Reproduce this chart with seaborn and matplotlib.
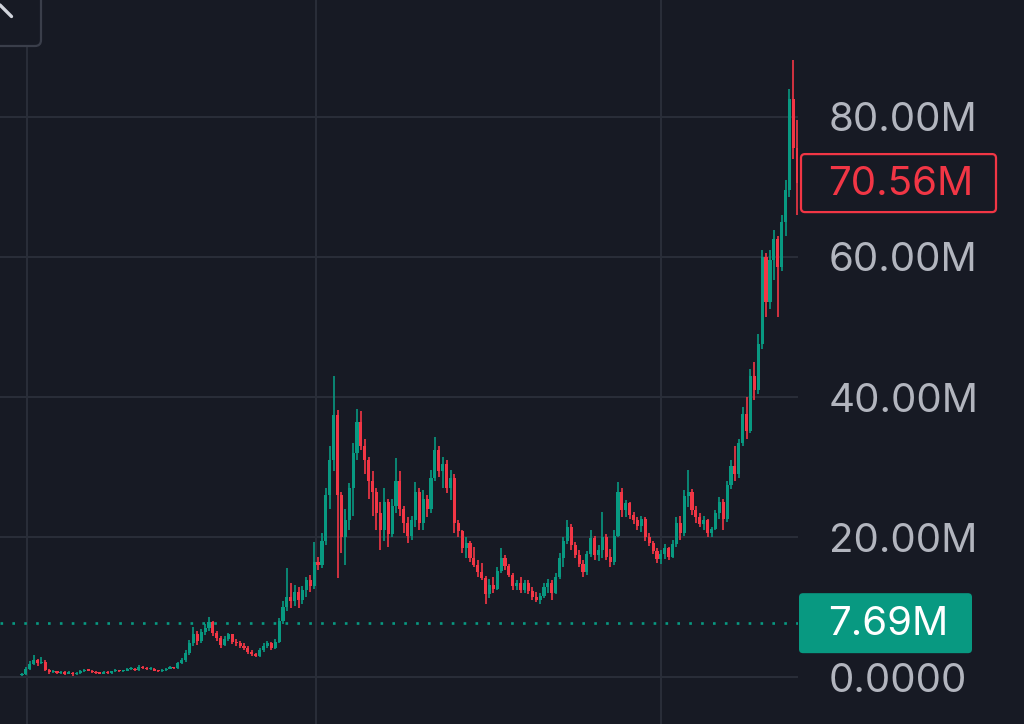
import numpy as np
import pandas as pd
import seaborn as sns
import matplotlib
matplotlib.use("Agg")
import matplotlib.pyplot as plt
from matplotlib.patches import FancyBboxPatch

# ---------------- data (values in millions) ----------------
opens = [0.3, 0.4, 1.2, 1.9, 2.4, 2.0, 2.2, 1.0, 0.7, 0.8,
         0.6, 0.7, 0.5, 0.6, 0.4, 0.6, 0.8, 1.0, 0.9, 0.7,
         0.6, 0.5, 0.7, 0.6, 0.8, 0.9, 0.8, 0.9, 1.1, 1.2,
         1.0, 1.5, 1.3, 1.1, 1.2, 0.9, 0.8, 1.0, 1.2, 1.4,
         1.3, 2.0, 2.4, 3.5, 4.8, 6.2, 5.2, 6.5, 7.0, 7.8,
         6.3, 5.6, 4.6, 5.5, 6.1, 5.0, 4.8, 4.5, 4.2, 3.6,
         3.3, 3.0, 3.8, 4.5, 4.8, 4.2, 5.0, 8.0, 10.0, 11.5,
         10.8, 12.2, 11.0, 12.5, 13.8, 13.0, 16.5, 16.0, 19.5, 26.0,
         31.0, 37.5, 26.0, 20.0, 22.5, 27.0, 32.0, 36.5, 33.0, 31.0,
         28.0, 26.5, 23.5, 21.0, 25.0, 20.5, 24.5, 28.0, 24.0, 22.0,
         20.2, 22.5, 26.5, 22.0, 25.5, 24.0, 28.5, 32.5, 29.5, 30.5,
         27.0, 28.5, 22.0, 20.8, 18.5, 19.2, 17.0, 16.0, 15.0, 14.2,
         11.8, 13.2, 12.6, 15.2, 17.0, 15.8, 14.6, 13.0, 13.5, 12.4,
         13.4, 12.3, 11.5, 11.0, 11.6, 12.8, 13.5, 12.0, 14.3, 17.0,
         19.5, 21.5, 18.8, 17.5, 16.2, 15.0, 17.6, 19.8, 17.4, 18.2,
         20.0, 17.2, 16.4, 20.2, 26.5, 23.8, 24.8, 23.2, 22.4, 21.6,
         22.6, 20.0, 19.2, 18.0, 16.8, 17.6, 18.4, 17.2, 19.0, 22.0,
         20.6, 25.8, 26.4, 23.8, 22.8, 21.8, 22.4, 20.6, 21.2, 23.4,
         25.0, 22.6, 27.4, 30.2, 29.0, 33.4, 37.6, 35.2, 43.0, 41.0,
         47.5, 60.0, 53.5, 59.5, 62.5, 58.5, 65.0, 69.5, 82.5, 75.5]

highs = [0.6, 1.5, 2.3, 3.1, 2.6, 2.8, 2.4, 1.1, 1.0, 0.9,
         0.9, 0.8, 0.8, 0.7, 0.7, 1.0, 1.2, 1.1, 1.0, 0.8,
         0.7, 0.9, 0.8, 0.9, 1.1, 1.0, 1.0, 1.3, 1.4, 1.3,
         1.7, 1.6, 1.4, 1.4, 1.3, 1.0, 1.1, 1.3, 1.6, 1.5,
         2.2, 2.7, 3.9, 5.3, 7.1, 6.6, 6.9, 7.6, 8.6, 8.0,
         6.6, 5.9, 5.9, 6.3, 6.2, 5.4, 5.1, 4.8, 4.4, 3.9,
         3.5, 4.1, 4.9, 5.2, 5.0, 5.4, 8.4, 10.8, 15.6, 13.5,
         13.2, 12.8, 13.0, 14.3, 14.6, 19.3, 17.2, 20.6, 27.0, 33.0,
         43.0, 38.2, 26.5, 24.0, 27.7, 33.5, 38.3, 38.0, 34.0, 31.5,
         29.5, 27.0, 25.0, 27.0, 25.5, 25.5, 31.3, 29.5, 24.5, 22.8,
         23.0, 27.8, 27.0, 26.7, 26.0, 29.6, 34.3, 33.0, 31.4, 31.0,
         29.6, 29.0, 22.5, 21.0, 20.0, 19.5, 18.6, 16.7, 16.3, 14.5,
         14.0, 14.3, 15.7, 18.4, 17.5, 16.2, 14.8, 13.9, 14.3, 13.9,
         13.8, 12.9, 12.2, 12.0, 13.5, 14.0, 13.8, 14.8, 17.7, 20.0,
         22.4, 21.8, 19.3, 18.1, 16.7, 18.0, 21.0, 20.2, 18.9, 23.6,
         20.4, 18.3, 21.0, 27.8, 27.0, 25.3, 25.0, 23.6, 22.9, 23.0,
         22.8, 20.6, 19.5, 18.4, 18.1, 19.0, 18.6, 19.6, 22.8, 23.0,
         26.7, 29.6, 26.8, 24.4, 23.4, 23.0, 22.6, 21.5, 23.9, 25.7,
         25.5, 28.0, 31.0, 33.0, 34.0, 38.6, 40.0, 44.0, 45.0, 49.0,
         61.0, 60.5, 61.0, 63.9, 63.0, 66.0, 71.0, 84.0, 88.1, 79.6]

lows = [0.1, 0.3, 1.0, 1.7, 1.6, 1.8, 0.8, 0.5, 0.6, 0.4,
        0.5, 0.3, 0.4, 0.2, 0.3, 0.5, 0.7, 0.8, 0.6, 0.5,
        0.4, 0.4, 0.5, 0.5, 0.7, 0.7, 0.7, 0.8, 1.0, 0.9,
        0.9, 1.2, 1.0, 1.0, 0.8, 0.7, 0.7, 0.9, 1.1, 1.1,
        1.2, 1.8, 2.2, 3.2, 4.4, 4.6, 4.9, 6.0, 6.6, 5.9,
        5.2, 4.2, 4.4, 5.1, 4.7, 4.4, 4.2, 3.8, 3.3, 3.0,
        2.8, 2.9, 3.6, 4.2, 3.9, 4.0, 4.8, 7.6, 9.4, 9.8,
        10.2, 9.9, 10.4, 11.4, 12.2, 12.6, 15.3, 15.6, 18.8, 24.0,
        29.5, 14.1, 17.7, 16.0, 21.0, 23.0, 31.0, 32.5, 29.0, 25.5,
        23.0, 21.0, 18.1, 19.5, 18.6, 20.0, 23.5, 23.0, 20.6, 19.1,
        19.6, 21.5, 21.0, 21.0, 22.8, 23.5, 28.0, 28.6, 27.0, 26.3,
        25.3, 20.6, 20.0, 17.7, 17.0, 16.5, 15.7, 14.3, 13.8, 10.5,
        11.3, 12.0, 12.4, 14.8, 15.3, 14.3, 12.4, 12.4, 12.0, 12.0,
        11.8, 11.0, 10.7, 10.5, 11.3, 12.0, 11.0, 11.8, 14.0, 15.7,
        19.0, 18.1, 17.0, 15.7, 14.3, 14.6, 17.2, 16.7, 16.6, 17.0,
        16.7, 15.7, 16.0, 20.0, 22.8, 22.8, 22.6, 21.8, 21.0, 20.7,
        19.4, 18.7, 17.6, 16.3, 16.2, 16.9, 16.7, 17.0, 18.6, 19.6,
        20.2, 24.3, 23.1, 22.0, 21.4, 21.0, 20.0, 20.0, 21.0, 22.6,
        21.0, 22.2, 26.8, 28.0, 28.5, 33.0, 34.0, 34.8, 39.6, 40.5,
        46.8, 51.4, 52.5, 56.7, 51.4, 58.0, 63.0, 68.5, 74.0, 66.0]

closes = [0.4, 1.2, 1.9, 2.4, 2.0, 2.2, 1.0, 0.7, 0.8, 0.6,
          0.7, 0.5, 0.6, 0.4, 0.6, 0.8, 1.0, 0.9, 0.7, 0.6,
          0.5, 0.7, 0.6, 0.8, 0.9, 0.8, 0.9, 1.1, 1.2, 1.0,
          1.5, 1.3, 1.1, 1.2, 0.9, 0.8, 1.0, 1.2, 1.4, 1.3,
          2.0, 2.4, 3.5, 4.8, 6.2, 5.2, 6.5, 7.0, 7.8, 6.3,
          5.6, 4.6, 5.5, 6.1, 5.0, 4.8, 4.5, 4.2, 3.6, 3.3,
          3.0, 3.8, 4.5, 4.8, 4.2, 5.0, 8.0, 10.0, 11.5, 10.8,
          12.2, 11.0, 12.5, 13.8, 13.0, 16.5, 16.0, 19.5, 26.0, 31.0,
          37.5, 26.0, 20.0, 22.5, 27.0, 32.0, 36.5, 33.0, 31.0, 28.0,
          26.5, 23.5, 21.0, 25.0, 20.5, 24.5, 28.0, 24.0, 22.0, 20.2,
          22.5, 26.5, 22.0, 25.5, 24.0, 28.5, 32.5, 29.5, 30.5, 27.0,
          28.5, 22.0, 20.8, 18.5, 19.2, 17.0, 16.0, 15.0, 14.2, 11.8,
          13.2, 12.6, 15.2, 17.0, 15.8, 14.6, 13.0, 13.5, 12.4, 13.4,
          12.3, 11.5, 11.0, 11.6, 12.8, 13.5, 12.0, 14.3, 17.0, 19.5,
          21.5, 18.8, 17.5, 16.2, 15.0, 17.6, 19.8, 17.4, 18.2, 20.0,
          17.2, 16.4, 20.2, 26.5, 23.8, 24.8, 23.2, 22.4, 21.6, 22.6,
          20.0, 19.2, 18.0, 16.8, 17.6, 18.4, 17.2, 19.0, 22.0, 20.6,
          25.8, 26.4, 23.8, 22.8, 21.8, 22.4, 20.6, 21.2, 23.4, 25.0,
          22.6, 27.4, 30.2, 29.0, 33.4, 37.6, 35.2, 43.0, 41.0, 47.5,
          60.0, 53.5, 59.5, 62.5, 58.5, 65.0, 69.5, 82.5, 75.5, 70.56]

y_ticks = [0, 20, 40, 60, 80]
y_tick_labels = ["0.0000", "20.00M", "40.00M", "60.00M", "80.00M"]
last_price = 70.56
last_label = "70.56M"
ref_price = 7.69
ref_label = "7.69M"
time_grid = [1.3, 75.4, 164.1]   # vertical time-grid positions (candle index units)

# ---------------- style ----------------
BG = "#171a24"
GRID = "#2a2e39"
UP = "#089981"
DOWN = "#f23645"
TXT = "#b2b5be"
FS = 29

sns.set_theme(style="dark")
plt.rcParams["font.family"] = ["Inter", "DejaVu Sans"]

df = pd.DataFrame({"open": opens, "high": highs, "low": lows, "close": closes})
df["idx"] = np.arange(len(df))
df["up"] = df["close"] >= df["open"]

W, H = 1024, 724
fig = plt.figure(figsize=(W / 100, H / 100), dpi=100, facecolor=BG)
ax = fig.add_axes([0, 0, 798 / W, 1])
ax.set_facecolor(BG)

# grid
for v in y_ticks:
    ax.axhline(v, color=GRID, lw=1.4, zorder=0)
for t in time_grid:
    ax.axvline(t, color=GRID, lw=1.4, zorder=0)

colors = np.where(df["up"], UP, DOWN)
# wicks
ax.vlines(df["idx"], df["low"], df["high"], colors=colors, lw=1.2, zorder=2)
# bodies
body_bottom = np.minimum(df["open"], df["close"])
body_h = np.maximum(np.abs(df["close"] - df["open"]), 0.18)
ax.bar(df["idx"], body_h, bottom=body_bottom, width=0.8, color=colors,
       linewidth=0, zorder=3)

# dotted reference line
ax.axhline(ref_price, color=UP, lw=1.9, linestyle=(0, (1.0, 3.5)), zorder=1)

ax.set_xlim(-5.64, 199.2)
ax.set_ylim(-6.714, 96.714)
ax.set_xticks([])
ax.set_yticks(y_ticks)
ax.set_yticklabels(y_tick_labels)
ax.yaxis.tick_right()
ax.tick_params(axis="y", length=0, pad=22, labelsize=FS, labelcolor=TXT)
for s in ax.spines.values():
    s.set_visible(False)
ax.grid(False)

# overlay in pixel coordinates for price labels and corner button
ov = fig.add_axes([0, 0, 1, 1], zorder=10)
ov.set_xlim(0, W)
ov.set_ylim(0, H)
ov.axis("off")
ov.patch.set_alpha(0)

fig.canvas.draw()
def ypix(v):
    return ax.transData.transform((0, v))[1]

y_last = ypix(last_price)
y_ref = ypix(ref_price)

ov.add_patch(FancyBboxPatch((801, y_last - 29), 195, 58,
                            boxstyle="round,pad=0,rounding_size=4",
                            fc=BG, ec=DOWN, lw=1.6))
ov.text(828, y_last - 1, last_label, color=DOWN, fontsize=FS, va="center", ha="left")

ov.add_patch(FancyBboxPatch((799, y_ref - 30), 173, 60,
                            boxstyle="round,pad=0,rounding_size=4",
                            fc=UP, ec="none"))
ov.text(828, y_ref - 1, ref_label, color="white", fontsize=FS, va="center", ha="left")

# partially visible corner button
ov.add_patch(FancyBboxPatch((-20, H - 46), 61, 70,
                            boxstyle="round,pad=0,rounding_size=6",
                            fc=BG, ec="#3a3e4a", lw=1.6))
ov.plot([0, 11.5], [H - 5, H - 16.5], color="#d1d4dc", lw=2.4,
        solid_capstyle="round")

fig.savefig("out.png", dpi=100, facecolor=BG)
